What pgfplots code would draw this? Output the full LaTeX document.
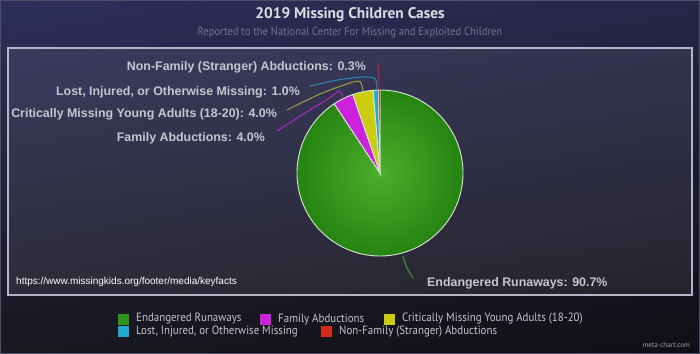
\documentclass[border=0pt]{standalone}
\usepackage{pgfplots}
\pgfplotsset{compat=1.18}
\usepackage{fontspec}
\setmainfont{Liberation Sans}
\newfontfamily\ptsans{PT Sans}
\newfontfamily\ptsansn[FakeStretch=0.91]{PT Sans}
\usetikzlibrary{shadings}
\definecolor{bgA}{HTML}{2E2E5C}
\definecolor{bgB}{HTML}{26264A}
\definecolor{bgC}{HTML}{18181F}
\definecolor{bgD}{HTML}{0F0F13}
\definecolor{boxline}{HTML}{B4B4C6}
\definecolor{titlec}{HTML}{DCDCE2}
\definecolor{subc}{HTML}{74748A}
\definecolor{labc}{HTML}{C6C6D0}
\definecolor{legc}{HTML}{C4C4CE}
\definecolor{cGreen}{HTML}{2F951A}
\definecolor{cGreenL}{HTML}{4BAE2C}
\definecolor{cGreenD}{HTML}{268412}
\definecolor{cMag}{HTML}{CC22DD}
\definecolor{cYel}{HTML}{CCCC11}
\definecolor{cCyan}{HTML}{22AACC}
\definecolor{cRed}{HTML}{D42A1E}
\definecolor{lGreen}{HTML}{4C8A3A}
\definecolor{lMag}{HTML}{9A2CB4}
\definecolor{lYel}{HTML}{A0A040}
\definecolor{lCyan}{HTML}{2A8AB8}
\definecolor{lRed}{HTML}{B02A36}
\definecolor{slb}{HTML}{D8E8D8}
% values (percent)
\def\vA{90.7}% Endangered Runaways
\def\vB{4.0}% Family Abductions
\def\vC{4.0}% Critically Missing Young Adults (18-20)
\def\vD{1.0}% Lost, Injured, or Otherwise Missing
\def\vE{0.3}% Non-Family (Stranger) Abductions
\pgfmathsetmacro\aA{90}
\pgfmathsetmacro\aB{\aA-3.6*\vA}
\pgfmathsetmacro\aC{\aB-3.6*\vB}
\pgfmathsetmacro\aD{\aC-3.6*\vC}
\pgfmathsetmacro\aE{\aD-3.6*\vD}
\pgfmathsetmacro\aF{\aE-3.6*\vE}
\begin{document}
\begin{tikzpicture}
\useasboundingbox (0,0) rectangle (700bp,354bp);
\begin{axis}[
  at={(0,0)}, anchor=south west,
  scale only axis, width=700bp, height=354bp,
  xmin=0, xmax=700, ymin=0, ymax=354, y dir=reverse,
  hide axis, clip=false,
]
% background
\shade[upper left=bgA, upper right=bgB, lower left=bgC, lower right=bgD] (axis cs:0,0) rectangle (axis cs:700,354);
\draw[color=bgA!60!gray, line width=1.2bp] (axis cs:0.6,0.6) rectangle (axis cs:699.4,353.4);
\fill[white, fill opacity=0.075] (axis cs:8,48) rectangle (axis cs:692,295);
\draw[boxline, line width=1.1bp] (axis cs:8,48) rectangle (axis cs:692,295);
% titles
\node[font=\ptsans\bfseries\fontsize{15.4bp}{17bp}\selectfont, text=titlec] at (axis cs:350,15) {2019 Missing Children Cases};
\node[font=\ptsansn\fontsize{11.6bp}{13bp}\selectfont, text=subc] at (axis cs:350,33) {Reported to the National Center For Missing and Exploited Children};
% pie slices
\addplot[draw=slb, line width=0.9bp, inner color=cGreenL, outer color=cGreenD, domain=\aB:\aA, samples=160, variable=\t] ({380+83*cos(\t)},{173-83*sin(\t)}) -- (axis cs:380,173) -- cycle;
\addplot[draw=slb, line width=0.9bp, fill=cMag, domain=\aC:\aB, samples=12, variable=\t] ({380+83*cos(\t)},{173-83*sin(\t)}) -- (axis cs:380,173) -- cycle;
\addplot[draw=slb, line width=0.9bp, fill=cYel, domain=\aD:\aC, samples=12, variable=\t] ({380+83*cos(\t)},{173-83*sin(\t)}) -- (axis cs:380,173) -- cycle;
\addplot[draw=slb, line width=0.9bp, fill=cCyan, domain=\aE:\aD, samples=5, variable=\t] ({380+83*cos(\t)},{173-83*sin(\t)}) -- (axis cs:380,173) -- cycle;
\addplot[draw=slb, line width=0.5bp, fill=cRed, domain=\aF:\aE, samples=3, variable=\t] ({380+83*cos(\t)},{173-83*sin(\t)}) -- (axis cs:380,173) -- cycle;
% leader lines
\addplot[lRed, line width=1bp, smooth] coordinates {(378.3,63) (378.7,76) (379,89)};
\addplot[lCyan, line width=1bp, smooth] coordinates {(310,86) (338,80) (362,77) (375,78.5) (377,89)};
\addplot[lYel, line width=1bp, smooth] coordinates {(287,110) (320,94) (350,83) (360,81.5) (363,91)};
\addplot[lMag, line width=1.2bp, smooth] coordinates {(277,131) (305,113) (328,99) (339,91) (343,97)};
\addplot[lGreen, line width=1.1bp, smooth] coordinates {(403,256) (407,268) (413,278)};
% data labels
\tikzset{lab/.style={font=\bfseries\fontsize{12.4bp}{14bp}\selectfont, text=labc, inner sep=0pt}}
\node[lab, anchor=east] at (axis cs:366,67) {Non-Family (Stranger) Abductions: 0.3\%};
\node[lab, anchor=east] at (axis cs:300,92) {Lost, Injured, or Otherwise Missing: 1.0\%};
\node[lab, anchor=east] at (axis cs:277,114) {Critically Missing Young Adults (18-20): 4.0\%};
\node[lab, anchor=east] at (axis cs:265,138) {Family Abductions: 4.0\%};
\node[lab, anchor=west] at (axis cs:427,283) {Endangered Runaways: 90.7\%};
% source
\node[anchor=west, inner sep=0pt, text=white, font=\fontsize{10bp}{11bp}\selectfont] at (axis cs:16,282) {https://www.missingkids.org/footer/media/keyfacts};
% legend
\tikzset{leg/.style={anchor=west, inner sep=0pt, text=legc, font=\ptsansn\fontsize{12bp}{14bp}\selectfont}}
\fill[cGreen] (axis cs:118,314) rectangle (axis cs:129,325);
\node[leg] at (axis cs:136,319) {Endangered Runaways};
\fill[cMag] (axis cs:260,314) rectangle (axis cs:271,325);
\node[leg] at (axis cs:278,319) {Family Abductions};
\fill[cYel] (axis cs:384,314) rectangle (axis cs:395,325);
\node[leg] at (axis cs:402,319) {Critically Missing Young Adults (18-20)};
\fill[cCyan] (axis cs:118,326) rectangle (axis cs:129,337);
\node[leg] at (axis cs:136,331.5) {Lost, Injured, or Otherwise Missing};
\fill[cRed] (axis cs:321,326) rectangle (axis cs:332,337);
\node[leg] at (axis cs:339,331.5) {Non-Family (Stranger) Abductions};
\node[anchor=east, inner sep=0pt, text=gray!70, font=\ptsans\fontsize{7bp}{8bp}\selectfont] at (axis cs:690,345) {meta-chart.com};
\end{axis}
\end{tikzpicture}
\end{document}
